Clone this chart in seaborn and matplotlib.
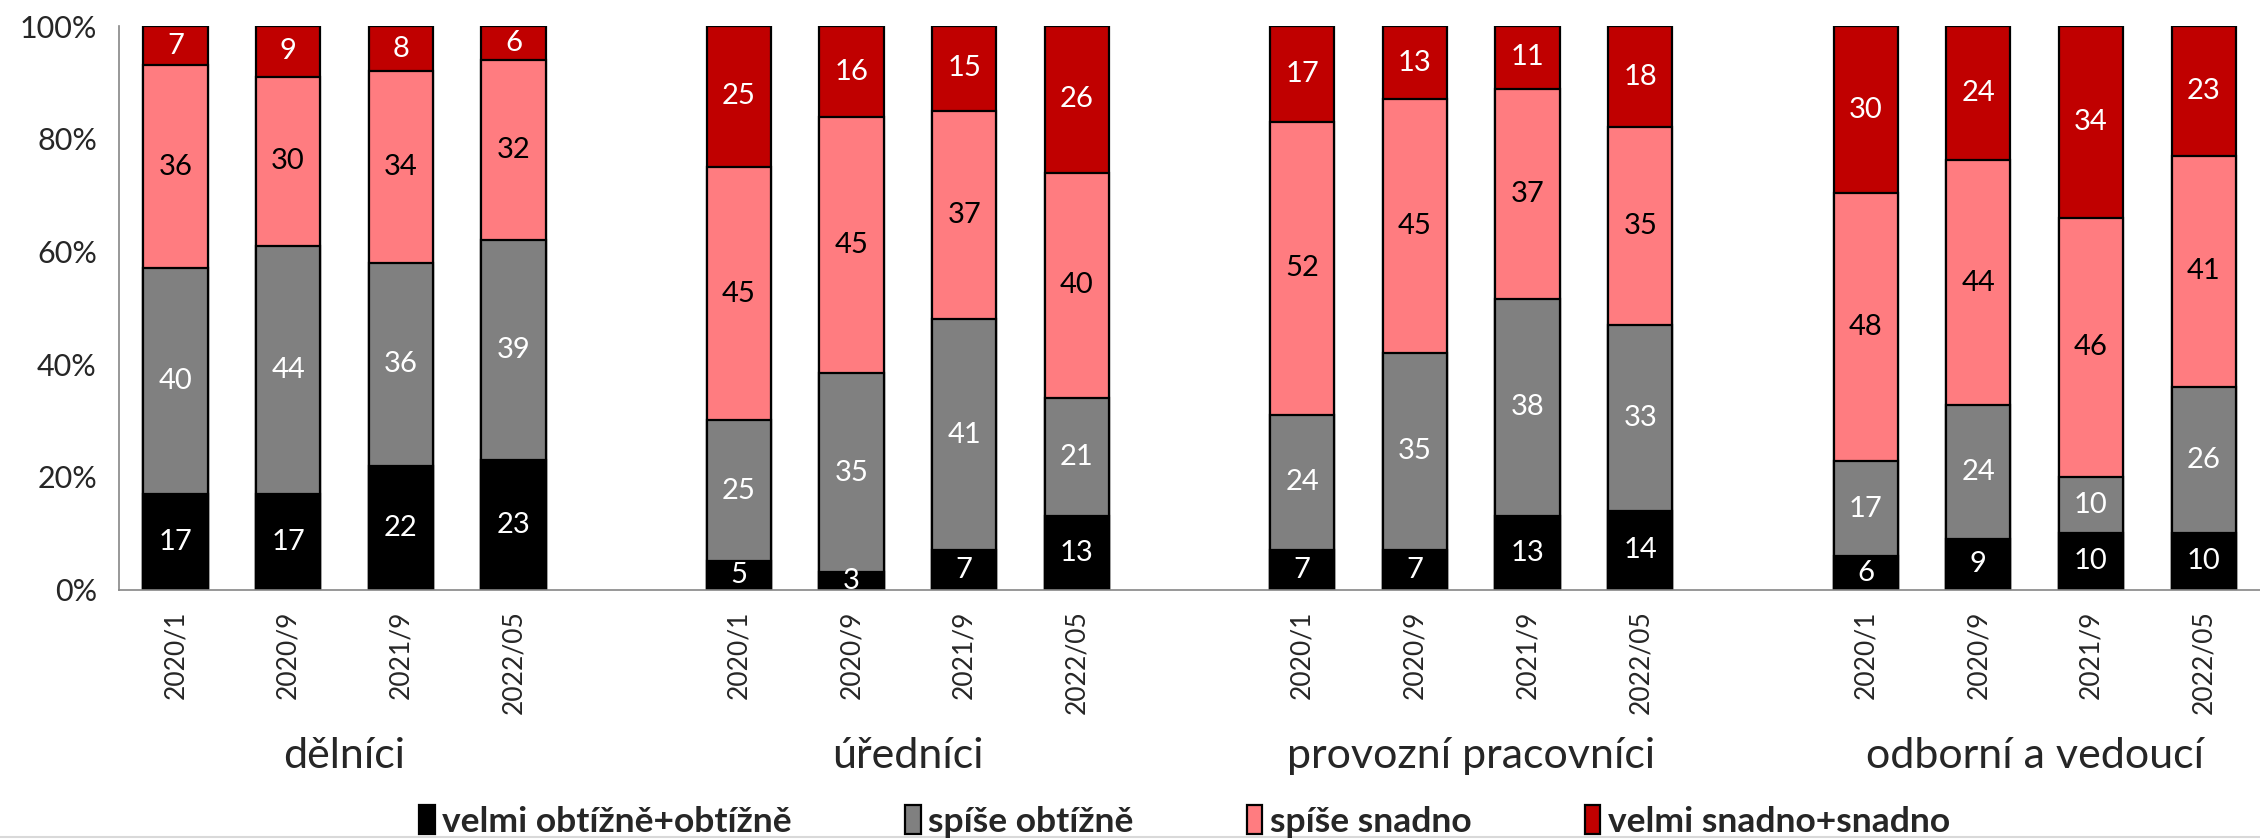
import numpy as np
import pandas as pd
import matplotlib
matplotlib.use("Agg")
import matplotlib.pyplot as plt
from matplotlib.lines import Line2D
from matplotlib.patches import Patch
from matplotlib.ticker import FuncFormatter
import seaborn as sns

# categories
groups = ["dělníci", "úředníci", "provozní pracovníci", "odborní a vedoucí"]
periods = ["2020/1", "2020/9", "2021/9", "2022/05"]
series = ["velmi obtížně+obtížně", "spíše obtížně", "spíše snadno", "velmi snadno+snadno"]

# values per series, group by group (4 periods each)
velmi_obtizne = [17, 17, 22, 23, 5, 3, 7, 13, 7, 7, 13, 14, 6, 9, 10, 10]
spise_obtizne = [40, 44, 36, 39, 25, 35, 41, 21, 24, 35, 38, 33, 17, 24, 10, 26]
spise_snadno = [36, 30, 34, 32, 45, 45, 37, 40, 52, 45, 37, 35, 48, 44, 46, 41]
velmi_snadno = [7, 9, 8, 6, 25, 16, 15, 26, 17, 13, 11, 18, 30, 24, 34, 23]

colors = ["#000000", "#808080", "#FF7C80", "#C00000"]
label_colors = ["white", "white", "black", "white"]

sns.set_style("white")
plt.rcParams["font.family"] = ["Lato", "DejaVu Sans"]

# keys + category order with one empty slot between groups
keys = [f"{g}|{p}" for g in groups for p in periods]
order = []
for gi, g in enumerate(groups):
    order += [f"{g}|{p}" for p in periods]
    if gi < len(groups) - 1:
        order.append(f"gap{gi}")

vals = np.array([velmi_obtizne, spise_obtizne, spise_snadno, velmi_snadno], dtype=float)
shares = vals / vals.sum(axis=0) * 100  # 100% stacked
cum = np.cumsum(shares, axis=0)

df = pd.DataFrame({"key": keys})
for s in range(4):
    df[f"cum{s}"] = cum[s]

fig = plt.figure(figsize=(22.6, 8.4), dpi=100)
ax = fig.add_axes([0.0527, 0.2982, 0.9473, 0.6708])

# layered bars: tallest first, each drawn from 0
for s in reversed(range(4)):
    sns.barplot(data=df, x="key", y=f"cum{s}", order=order, color=colors[s],
                saturation=1, width=0.57, edgecolor="black", linewidth=1.6,
                errorbar=None, ax=ax)

# data labels in segment centers
for i, key in enumerate(keys):
    x = order.index(key)
    for s in range(4):
        y = cum[s][i] - shares[s][i] / 2
        ax.text(x, y, f"{int(vals[s][i])}", ha="center", va="center",
                fontsize=21, color=label_colors[s])

ax.set_ylim(0, 100)
ax.set_xlim(-0.5, 18.41)
ax.set_yticks(range(0, 101, 20))
ax.yaxis.set_major_formatter(FuncFormatter(lambda v, p: f"{int(v)}%"))
ax.set_xlabel("")
ax.set_ylabel("")

tick_labels = [k.split("|")[1] if "|" in k else "" for k in order]
ax.set_xticks(range(len(order)))
ax.set_xticklabels(tick_labels, rotation=90, fontsize=19)
ax.set_xticks(np.arange(-0.5, len(order), 1), minor=True)
ax.tick_params(axis="x", which="major", length=0, pad=15)
ax.tick_params(axis="x", which="minor", length=8, width=1.2, color="#868686", direction="out")
ax.tick_params(axis="y", length=8, width=1.2, color="#868686", direction="out", labelsize=22, pad=8)

for side in ["top", "right"]:
    ax.spines[side].set_visible(False)
for side in ["left", "bottom"]:
    ax.spines[side].set_color("#868686")
    ax.spines[side].set_linewidth(1.2)

# group labels
for g in groups:
    xs = [order.index(f"{g}|{p}") for p in periods]
    ax.text(np.mean(xs), -0.317, g, transform=ax.get_xaxis_transform(),
            ha="center", va="baseline", fontsize=31)

handles = [Patch(facecolor=c, edgecolor="black", linewidth=1.6) for c in colors]
leg = fig.legend(handles, series, loc="center", bbox_to_anchor=(0.524, 0.022), ncol=4,
                 frameon=False, prop={"weight": "bold", "size": 25.5},
                 handlelength=0.45, handleheight=0.85, handletextpad=0.2, columnspacing=3.2)

fig.add_artist(Line2D([0, 1], [0.003, 0.003], color="#d9d9d9", linewidth=1.5,
                      transform=fig.transFigure))

fig.savefig("out.png", dpi=100)
